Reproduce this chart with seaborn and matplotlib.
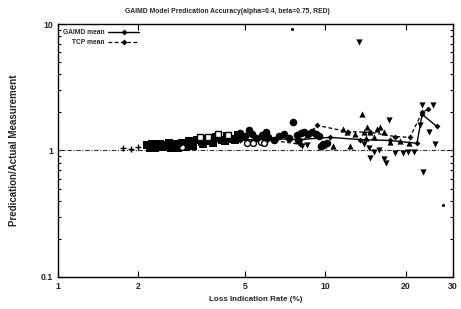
import matplotlib
matplotlib.use("Agg")
import matplotlib.pyplot as plt
import matplotlib.ticker as mticker
import seaborn as sns
import pandas as pd

# ---- data ----
gaimd_x = [2.21, 2.86, 3.70, 4.79, 6.04, 8.03, 10.4, 13.5, 17.4, 22.0, 23.0, 26.1]
gaimd_y = [1.08, 1.12, 1.16, 1.20, 1.245, 1.22, 1.27, 1.22, 1.20, 1.14, 1.93, 1.55]
tcp_x = [2.21, 2.86, 3.70, 4.79, 6.04, 8.03, 9.3, 12.1, 14.7, 18.2, 20.7, 23.0, 24.2]
tcp_y = [1.08, 1.12, 1.16, 1.20, 1.22, 1.12, 1.58, 1.41, 1.39, 1.29, 1.27, 2.00, 2.11]

sq_x = [2.15, 2.2, 2.25, 2.3, 2.35, 2.4, 2.45, 2.5, 2.55, 2.6, 2.65, 2.7, 2.75, 2.8,
        2.9, 3.0, 3.1, 3.2, 3.3, 3.45, 3.6, 3.75, 3.9, 4.1, 4.3, 4.5, 4.7, 4.9,
        2.2, 2.4, 2.6, 2.8, 3.0, 3.2, 3.5, 3.8, 4.2, 4.6]
sq_y = [1.10, 1.07, 1.12, 1.05, 1.09, 1.13, 1.06, 1.10, 1.08, 1.14, 1.05, 1.10, 1.12, 1.07,
        1.15, 1.10, 1.18, 1.13, 1.20, 1.16, 1.24, 1.18, 1.27, 1.21, 1.30, 1.24, 1.33, 1.27,
        1.04, 1.06, 1.08, 1.04, 1.06, 1.09, 1.12, 1.15, 1.18, 1.20]

dot_x = [4.8, 5.0, 5.3, 5.5, 5.8, 6.1, 6.4, 6.7, 7.0, 7.3, 7.56, 7.8, 8.1, 8.3, 8.6,
         8.9, 9.2, 9.5, 7.9, 9.8, 10.1, 9.6, 5.2, 6.0]
dot_y = [1.38, 1.30, 1.35, 1.25, 1.32, 1.28, 1.22, 1.30, 1.35, 1.25, 1.67, 1.32, 1.38, 1.39, 1.36,
         1.40, 1.35, 1.30, 1.20, 1.12, 1.15, 1.08, 1.46, 1.41]

ocirc_x = [2.9, 5.09, 5.38, 5.74, 5.9]
ocirc_y = [1.06, 1.15, 1.15, 1.16, 1.15]

osq_x = [3.40, 3.64, 3.97, 4.32]
osq_y = [1.29, 1.29, 1.34, 1.32]

tup_x = [9.6, 9.9, 10.7, 11.6, 12.0, 12.4, 12.9, 13.7, 13.9, 14.3, 14.7, 15.6,
         14.2, 15.2, 16.0, 16.5, 17.5, 19.0, 20.5]
tup_y = [1.08, 1.10, 1.08, 1.47, 1.39, 1.08, 1.36, 1.96, 1.41, 1.52, 1.39, 1.47,
         1.25, 1.28, 1.52, 1.40, 1.17, 1.18, 1.15]

tdn_x = [8.2, 8.5, 13.3, 14.5, 14.7, 15.2, 16.5, 16.8, 17.3, 18.2, 19.5, 20.4,
         21.5, 23.0, 25.2, 24.5, 25.6, 23.2, 22.5, 15.8, 14.0]
tdn_y = [1.08, 1.10, 7.27, 1.05, 0.87, 0.98, 0.85, 0.80, 1.73, 0.96, 0.96, 0.98,
         0.97, 2.31, 2.31, 1.39, 1.135, 0.68, 1.60, 1.00, 1.12]

tiny_x = [7.5, 27.5]
tiny_y = [9.06, 0.37]

plus_x = [1.75, 1.87, 2.0]
plus_y = [1.05, 1.03, 1.06]

title = "GAIMD Model Predication Accuracy(alpha=0.4, beta=0.75, RED)"
xlabel = "Loss Indication Rate (%)"
ylabel = "Predication/Actual Measurement"
xticks = [1, 2, 5, 10, 20, 30]
yticks = [0.1, 1, 10]

# ---- style ----
sns.set_style("ticks")
FAM = ['Liberation Sans', 'DejaVu Sans']
plt.rcParams['font.family'] = FAM

fig = plt.figure(figsize=(4.61, 3.09), dpi=100)
ax = fig.add_axes([0.1258, 0.1036, 0.8568, 0.8187])
ax.set_xscale('log')
ax.set_yscale('log')

ax.axhline(1.0, color='#333333', lw=0.8, ls=(0, (4, 1.5, 1, 1.5)), zorder=1)

def sc(xs, ys, marker, size, face='black', lw=0):
    d = pd.DataFrame({'x': xs, 'y': ys})
    sns.scatterplot(data=d, x='x', y='y', ax=ax, marker=marker, s=size,
                    color=face, edgecolor='black', linewidth=lw, zorder=3)

sc(sq_x, sq_y, 's', 28)
sc(dot_x, dot_y, 'o', 30)
sc(ocirc_x, ocirc_y, 'o', 18, face='white', lw=1.0)
sc(osq_x, osq_y, 's', 18, face='white', lw=1.0)
sc(tup_x, tup_y, '^', 20)
sc(tdn_x, tdn_y, 'v', 20)
sc(tiny_x, tiny_y, 'o', 5)
sc(plus_x, plus_y, '+', 16, lw=1.0)

dg = pd.DataFrame({'x': gaimd_x, 'y': gaimd_y})
dt = pd.DataFrame({'x': tcp_x, 'y': tcp_y})
sns.lineplot(data=dg, x='x', y='y', ax=ax, color='black', lw=1.0, marker='D',
             markersize=3, markeredgewidth=0, label='GAIMD mean', zorder=4, sort=False)
sns.lineplot(data=dt, x='x', y='y', ax=ax, color='black', lw=0.9, ls=(0, (3, 2)),
             marker='D', markersize=3, markeredgewidth=0, label='TCP mean', zorder=4, sort=False)

ax.set_xlim(1, 30)
ax.set_ylim(0.1, 10)
ax.set_xticks(xticks)
ax.xaxis.set_major_formatter(mticker.FixedFormatter([str(t) for t in xticks]))
ax.xaxis.set_minor_locator(mticker.NullLocator())
ax.set_yticks(yticks)
ax.yaxis.set_major_formatter(mticker.FixedFormatter(['0.1', '1', '10']))
ax.yaxis.set_minor_locator(mticker.LogLocator(base=10, subs=range(2, 10)))
ax.yaxis.set_minor_formatter(mticker.NullFormatter())
ax.tick_params(which='both', direction='in', top=True, right=True, labelsize=6.3,
               color='black', width=0.8)
for lab in ax.get_xticklabels() + ax.get_yticklabels():
    lab.set_fontweight('bold')
ax.tick_params(which='major', length=4)
ax.tick_params(which='minor', length=2)
for s in ax.spines.values():
    s.set_linewidth(1.0)
    s.set_color('black')

ax.set_xlabel(xlabel, fontsize=5.8, fontweight='bold', labelpad=4)
ax.set_ylabel(ylabel, fontsize=7, fontweight='bold', labelpad=16)
fig.text(0.494, 0.962, title, ha='center', va='center', fontsize=4.9, fontweight='bold')

leg = ax.legend(loc='upper left', markerfirst=False, frameon=False,
                prop={'family': FAM, 'size': 4.8, 'weight': 'bold'},
                handlelength=4.6, handletextpad=0.5, borderaxespad=0.4,
                labelspacing=0.45, alignment='right')
for t in leg.get_texts():
    t.set_ha('right')

fig.savefig('out.png', dpi=100)
